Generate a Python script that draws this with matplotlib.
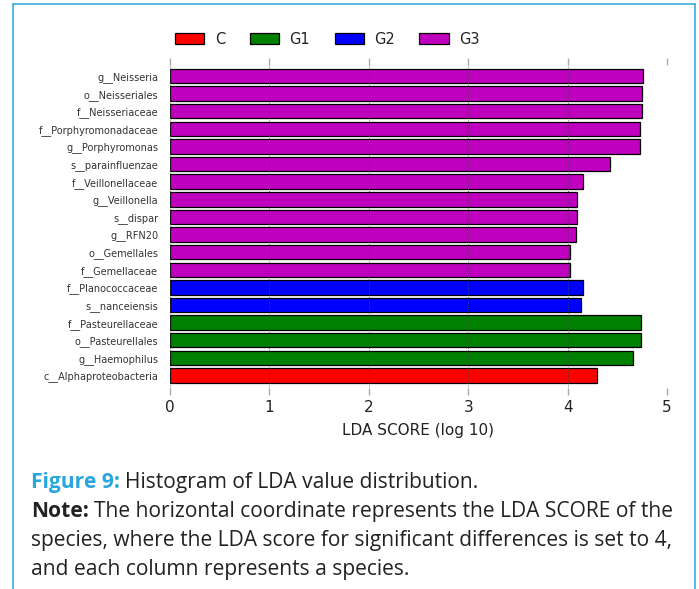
import numpy as np
import matplotlib
matplotlib.use("Agg")
import matplotlib.pyplot as plt
from matplotlib.patches import Patch
from matplotlib.lines import Line2D

# ==========================
# Data (top bar first)
# ==========================

taxa = [
    "g__Neisseria", "o__Neisseriales", "f__Neisseriaceae",
    "f__Porphyromonadaceae", "g__Porphyromonas", "s__parainfluenzae",
    "f__Veillonellaceae", "g__Veillonella", "s__dispar", "g__RFN20",
    "o__Gemellales", "f__Gemellaceae", "f__Planococcaceae",
    "s__nanceiensis", "f__Pasteurellaceae", "o__Pasteurellales",
    "g__Haemophilus", "c__Alphaproteobacteria",
]
lda = [
    4.755, 4.75, 4.75, 4.73, 4.725, 4.43,
    4.155, 4.095, 4.09, 4.08, 4.02, 4.02,
    4.15, 4.13, 4.735, 4.735, 4.66, 4.30,
]
group = [
    "G3", "G3", "G3", "G3", "G3", "G3",
    "G3", "G3", "G3", "G3", "G3", "G3",
    "G2", "G2", "G1", "G1", "G1", "C",
]
groups = ["C", "G1", "G2", "G3"]
group_colors = {"C": "#ff0000", "G1": "#008000", "G2": "#0000ff", "G3": "#bf00bf"}

W, H = 699, 589
fig = plt.figure(figsize=(W / 100, H / 100), dpi=100)

# axes placed in pixel terms
x0, x1 = 170, 667
y_top, y_bot = 65, 388
ax = fig.add_axes([x0 / W, 1 - y_bot / H, (x1 - x0) / W, (y_bot - y_top) / H])

pos = np.arange(len(taxa))
colors = [group_colors[g] for g in group]
ax.barh(pos, lda, height=0.82, color=colors, edgecolor="black", linewidth=0.9, zorder=2)

ax.set_ylim(len(taxa) - 1 + 0.71, -0.625)
ax.set_xlim(0, 5)
ax.set_xticks([0, 1, 2, 3, 4, 5])
ax.set_yticks(pos)
ax.set_yticklabels(taxa, fontsize=7, color="#333333")
ax.tick_params(axis="y", length=0, pad=8.5)
ax.tick_params(axis="x", top=True, bottom=True, direction="out", length=5,
               width=1, color="#aaaaaa", labelsize=11, labelcolor="#222222")
for s in ax.spines.values():
    s.set_visible(False)
ax.grid(axis="x", linestyle=":", color="#444444", linewidth=0.6, zorder=3)
ax.set_axisbelow(False)
ax.set_xlabel("LDA SCORE (log 10)", fontsize=11, color="#222222", labelpad=6)

# legend
handles = [Patch(facecolor=group_colors[g], edgecolor="black", linewidth=0.9) for g in groups]
fig.legend(handles, groups, loc="center left", bbox_to_anchor=(168 / W, 1 - 39 / H),
           ncol=4, frameon=False, fontsize=10.5, handlelength=2.0, handleheight=0.7,
           handletextpad=0.7, columnspacing=1.7, borderpad=0, labelcolor="#222222")

# ==========================
# Caption
# ==========================

blue = "#29a6de"
cap_font = "Open Sans"
cap_size = 15.1
fig.canvas.draw()
r = fig.canvas.get_renderer()

def caption_line(y_px, head, head_color, rest):
    y = 1 - y_px / H
    xx = 31 / W
    if head:
        t = fig.text(xx, y, head, fontsize=cap_size, family=cap_font, weight="bold",
                     color=head_color, va="baseline")
        bb = t.get_window_extent(renderer=r)
        xx = bb.x1 / W + 5 / W
    fig.text(xx, y, rest, fontsize=cap_size, family=cap_font, color="#222222", va="baseline")

caption_line(488, "Figure 9:", blue, "Histogram of LDA value distribution.")
caption_line(517, "Note:", "#222222", "The horizontal coordinate represents the LDA SCORE of the")
caption_line(546, None, None, "species, where the LDA score for significant differences is set to 4,")
caption_line(575, None, None, "and each column represents a species.")

# light blue frame
frame_c = "#3aaee0"
fig.add_artist(Line2D([13 / W, 13 / W], [0, 1 - 4 / H], color=frame_c, lw=1.2))
fig.add_artist(Line2D([695 / W, 695 / W], [0, 1 - 4 / H], color=frame_c, lw=1.2))
fig.add_artist(Line2D([13 / W, 695 / W], [1 - 4 / H, 1 - 4 / H], color=frame_c, lw=1.2))

fig.savefig("out.png", dpi=100)
